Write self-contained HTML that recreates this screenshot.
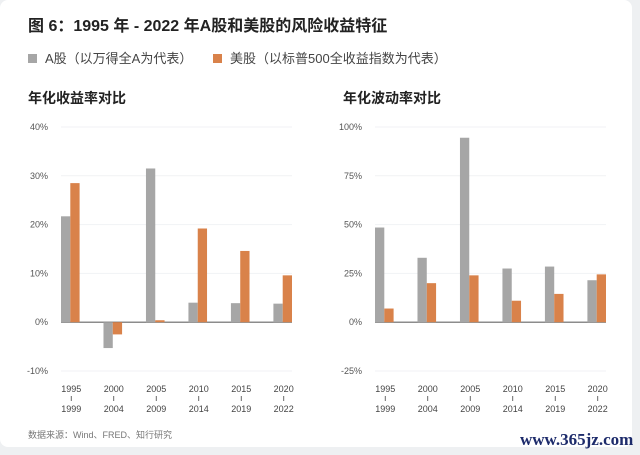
<!DOCTYPE html>
<html><head><meta charset="utf-8"><style>
body{margin:0;width:640px;height:455px;background:#eef0f2;font-family:"Liberation Sans","Noto Sans CJK SC",sans-serif;overflow:hidden;position:relative}
.card{position:absolute;left:0;top:0;width:632px;height:447px;background:#fff;border-radius:8px}
.t{position:absolute;white-space:nowrap;color:#222}
</style></head><body>
<div class="card"></div>
<div class="t" style="left:28px;top:12px;font-size:16px;font-weight:bold">图 6：1995 年 - 2022 年A股和美股的风险收益特征</div>
<div class="t" style="left:28px;top:48px;font-size:13px;color:#444"><span style="display:inline-block;width:9px;height:9px;background:#a6a6a6;margin-right:8px"></span>A股（以万得全A为代表）</div>
<div class="t" style="left:213px;top:48px;font-size:13px;color:#444"><span style="display:inline-block;width:9px;height:9px;background:#d9824a;margin-right:8px"></span>美股（以标普500全收益指数为代表）</div>
<div class="t" style="left:28px;top:88px;font-size:14px;font-weight:bold">年化收益率对比</div>
<div class="t" style="left:343px;top:88px;font-size:14px;font-weight:bold">年化波动率对比</div>
<div class="t" style="left:28px;top:428px;font-size:9px;color:#777">数据来源：Wind、FRED、知行研究</div>
<div class="t" style="left:520px;top:430px;font-size:17px;color:#1d2b6b;font-family:'Liberation Serif',serif;font-weight:bold">www.365jz.com</div>
<svg id="svg" width="640" height="455" style="position:absolute;left:0;top:0"></svg>
<script>
const periodsTop=["1995","2000","2005","2010","2015","2020"];
const periodsBottom=["1999","2004","2009","2014","2019","2022"];
const retA=[21.7,-5.3,31.5,4.0,3.9,3.8];
const retUS=[28.5,-2.5,0.4,19.2,14.6,9.6];
const volA=[48.5,33,94.5,27.5,28.5,21.5];
const volUS=[7,20,24,11,14.5,24.5];
const retTicks=[40,30,20,10,0,-10];
const volTicks=[100,75,50,25,0,-25];
const NS="http://www.w3.org/2000/svg";
const svg=document.getElementById('svg');
function mk(tag,attrs){const e=document.createElementNS(NS,tag);for(const k in attrs)e.setAttribute(k,attrs[k]);svg.appendChild(e);return e;}
function chart(x0,x1,lblX,tMax,tMin,ticks,A,U){
  const yTop=127,yBot=371;
  const y=v=>yTop+(tMax-v)/(tMax-tMin)*(yBot-yTop);
  ticks.forEach(t=>{
    const g=mk('line',{x1:x0,x2:x1,y1:y(t),y2:y(t),stroke:t===0?'#666':'#f1f2f4','stroke-width':t===0?1.2:1});
    
    
    const l=mk('text',{x:lblX,y:y(t)+3,'text-anchor':'end','font-size':9,fill:'#555'});
    l.textContent=t+'%';
    
    
  });
  const bw=9.3, n=periodsTop.length, step=(x1-x0-2*bw)/(n-1);
  periodsTop.forEach((p,i)=>{
    const c=x0+bw+i*step;
    const ba=mk('rect',{x:c-bw,width:bw,y:Math.min(y(A[i]),y(0)),height:Math.abs(y(A[i])-y(0)),fill:'#a6a6a6'});
    
    
    const bu=mk('rect',{x:c,width:bw,y:Math.min(y(U[i]),y(0)),height:Math.abs(y(U[i])-y(0)),fill:'#d9824a'});
    
    
    const lx=c+1;
    [[p,392],['ı',401],[periodsBottom[i],412]].forEach(([s,yy])=>{
      const t=mk('text',{x:lx,y:yy,'text-anchor':'middle','font-size':9,fill:'#444'});
      t.textContent=s;
      
      
    });
  });
}
chart(61,292,48,40,-10,retTicks,retA,retUS);
chart(375,606,362,100,-25,volTicks,volA,volUS);
</script>
</body></html>
